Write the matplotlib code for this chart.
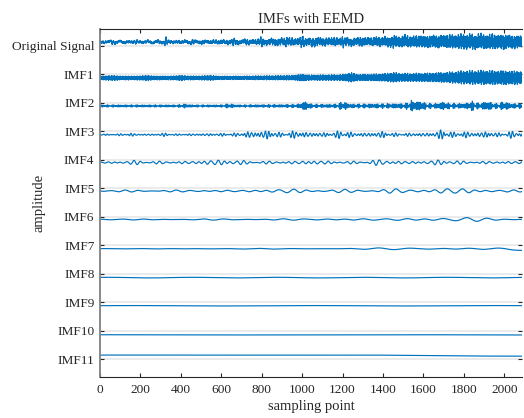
import numpy as np
import matplotlib
matplotlib.use("Agg")
import matplotlib.pyplot as plt

# ---------------- data ----------------
labels = ["Original Signal", "IMF1", "IMF2", "IMF3", "IMF4", "IMF5", "IMF6",
          "IMF7", "IMF8", "IMF9", "IMF10", "IMF11"]
n_samples = 2089
xticks = [0, 200, 400, 600, 800, 1000, 1200, 1400, 1600, 1800, 2000]
knots = [0, 100, 200, 300, 400, 500, 600, 700, 800, 900, 1000, 1100, 1200,
         1300, 1400, 1500, 1600, 1700, 1800, 1900, 2000, 2088]

# mean level of each trace relative to its tick
means = [4.0, -3.3, -3.0, -3.3, -2.7, -2.7, -2.7, -3.5, -3.9, -3.6, -4.2, 0.0]

# Original signal: fast / medium components and spikes
orig_fast_env = [1, 1, 1, 1.2, 1.2, 1.4, 1.6, 1.8, 2.2, 2.8, 3.2, 3.3, 3.3,
                 3.6, 4.2, 5.4, 5.6, 6.2, 7.2, 7.2, 7, 5.8]
orig_mid_env = [1, 1, 1, 1, 1, 1, 1.2, 1.5, 1.8, 2, 2, 2, 2, 1.8, 1.5, 1.2,
                1.0, 1.0, 0.8, 0.8, 0.8, 0.8]
orig_spikes = [(60, 1.5), (180, 1.5), (325, 4.5), (460, 1.5), (660, 2.5),
               (800, 3), (920, 3), (1000, 3), (1050, 2), (1200, 3), (1455, 2.5)]

imf1_env = [2, 2, 2, 2, 2, 2, 1.8, 1.8, 2, 2.2, 2.5, 2.8, 3, 3.3, 3.8, 4, 4.3,
            5, 6.5, 7, 7, 6.5]
imf1_bursts = [(60, 0.6), (230, 0.6), (400, 0.6), (540, 0.6), (1000, 1.0),
               (1240, 1.5), (1450, 1.0)]
imf2_env = [1, 1, 1, 1, 1, 1, 1, 1, 1.2, 1.3, 1.5, 1.5, 1.6, 1.8, 2, 2.2, 2.2,
            2.2, 2.2, 2.2, 2.2, 2]
imf2_bursts = [(420, 0.8), (640, 1), (1015, 2.5), (1203, 2), (1545, 2.5),
               (1585, 2), (1700, 1.5), (1840, 2), (1915, 2), (2000, 1.5)]
imf3_env = [0.6, 0.6, 0.6, 0.6, 0.7, 0.9, 1.2, 1.5, 1.8, 1.8, 1.8, 1.8, 1.6,
            1.5, 1.5, 1.4, 1.4, 1.5, 1.5, 1.5, 1.5, 1.5]
imf3_bursts = [(140, 0.8), (320, 0.8), (740, 1), (830, 2), (970, 1.5),
               (1200, 2.2), (1400, 1.2), (1700, 3), (1800, 1.2), (1915, 1.2),
               (2045, 1.5)]
imf4_env = [0.6, 0.7, 1.1, 1.1, 1, 1.2, 1.3, 1.2, 1.2, 1, 1.1, 1.2, 1, 1.2,
            1.2, 1.1, 1.1, 1.2, 1.1, 1.0, 1.0, 1.0]
imf4_bursts = [(170, 0.8), (550, 0.8), (650, 1), (1050, 0.6), (1385, 1.2),
               (1700, 1.3)]
imf5_env = [0.8, 0.8, 0.8, 0.8, 0.8, 0.8, 0.7, 0.7, 0.8, 1.1, 0.9, 1, 0.9, 0.9,
            1.1, 1, 1, 1, 1, 0.9, 0.9, 0.9]
imf5_bursts = [(915, 0.8), (1170, 0.5), (1435, 0.8), (1750, 1.5)]
imf6_env = [0.4, 0.4, 0.4, 0.4, 0.4, 0.5, 0.5, 0.5, 0.6, 0.6, 0.6, 0.7, 0.7,
            0.7, 0.8, 0.9, 1, 1, 1.1, 1, 0.9, 0.9]
imf6_bursts = [(1750, 0.5), (1850, 0.3)]
imf7_env = [0.2, 0.2, 0.2, 0.2, 0.2, 0.3, 0.3, 0.3, 0.3, 0.3, 0.3, 0.3, 0.4,
            0.5, 0.7, 0.9, 0.9, 0.8, 0.7, 0.6, 0.6, 0.5]
imf7_trend = [0, 0, 0, 0, 0, 0, 0, 0, 0, 0, 0, 0, 0, 0, 0, 0, 0, 0, 0, 0, 0,
              -1.5]
imf8_amp = 0.3
imf9_amp = 0.2
imf10_amp = 0.15
imf11_trend = [3.9, 3.9, 3.9, 3.9, 3.9, 3.9, 3.9, 3.9, 3.9, 3.9, 3.9, 3.9,
               3.9, 3.85, 3.8, 3.6, 3.4, 3.2, 3.0, 2.9, 2.8, 2.8]

# dominant period (samples) of each component
periods = {"orig_fast": 3.3, "orig_mid": 13, "imf1": 3.3, "imf2": 7,
           "imf3": 17, "imf4": 32, "imf5": 64, "imf6": 100, "imf7": 150,
           "imf8": 420, "imf9": 900, "imf10": 1600}

# ---------------- build traces ----------------
s = np.arange(n_samples)


def env(vals):
    return np.interp(s, knots, vals)


def burst(lst, width):
    out = np.zeros(n_samples)
    for c, a in lst:
        out += a * np.exp(-((s - c) / width) ** 2)
    return out


def pure(p, ph=0.0):
    return np.sin(2 * np.pi * s / p + ph)


def carrier(p, ph=0.0, w=0.55):
    # narrow-band oscillation around the dominant period
    return (pure(p, ph) + w * pure(1.31 * p, 2 * ph + 1.0)
            + 0.6 * w * pure(0.77 * p, ph + 2.0)) / (1 + 0.9 * w)


orig = (env(orig_fast_env) * carrier(periods["orig_fast"], 0.0, 0.25)
        + env(orig_mid_env) * 0.7 * carrier(periods["orig_mid"], 0.7)
        + burst(orig_spikes, 7) * pure(periods["orig_mid"], 0.7)
        + 0.8 * carrier(47, 1.3))
imf1 = (env(imf1_env) + burst(imf1_bursts, 25)) * carrier(periods["imf1"], 0.0, 0.25)
imf2 = (env(imf2_env) + burst(imf2_bursts, 22)) * carrier(periods["imf2"], 0.4)
imf3 = (env(imf3_env) + burst(imf3_bursts, 35)) * carrier(periods["imf3"], 1.1)
imf4 = (env(imf4_env) + burst(imf4_bursts, 60)) * carrier(periods["imf4"], 0.2)
imf5 = (env(imf5_env) + burst(imf5_bursts, 100)) * carrier(periods["imf5"], 2.0)
imf6 = (env(imf6_env) + burst(imf6_bursts, 120)) * carrier(periods["imf6"], 0.9)
imf7 = env(imf7_env) * carrier(periods["imf7"], 0.3) + env(imf7_trend)
imf8 = imf8_amp * pure(periods["imf8"], 1.0)
imf9 = imf9_amp * pure(periods["imf9"], 0.5)
imf10 = imf10_amp * pure(periods["imf10"], 2.5)
imf11 = env(imf11_trend)

traces = [orig, imf1, imf2, imf3, imf4, imf5, imf6, imf7, imf8, imf9, imf10,
          imf11]

# ---------------- plot ----------------
plt.rcParams["font.family"] = ["Liberation Serif", "DejaVu Serif"]
fig = plt.figure(figsize=(5.24, 4.18), dpi=100)
ax = fig.add_axes([0.1908, 0.0988, 0.9962 - 0.1908, 0.9313 - 0.0988])

step = 28
n = len(labels)
pos = [(n - 1 - i) * step for i in range(n)]
color = "#0072BD"

for yp in pos:
    ax.axhline(yp, color="#e6e6e6", lw=1.1, zorder=0)

for i, tr in enumerate(traces):
    ax.plot(s, tr + means[i] + pos[i], color=color, lw=0.85, zorder=2)

ax.set_xlim(0, 2088)
ax.set_ylim(-17.4, pos[0] + 17.0)
ax.set_xticks(xticks)
ax.set_yticks(pos)
ax.set_yticklabels(labels)

ax.tick_params(axis="both", direction="in", length=3, width=0.8,
               color="#262626", labelsize=9.6, labelcolor="#262626")
ax.tick_params(axis="y", pad=4, right=True)
ax.tick_params(axis="x", pad=5, top=True)

ax.spines["right"].set_visible(False)
ax.spines["left"].set_color("#808080")
ax.spines["left"].set_linewidth(1.3)
for sp in ("top", "bottom"):
    ax.spines[sp].set_color("#262626")
    ax.spines[sp].set_linewidth(0.8)

ax.set_title("IMFs with EEMD", fontsize=10.5, color="#262626", pad=4)
ax.set_xlabel("sampling point", fontsize=10.5, color="#262626", labelpad=3)
ax.set_ylabel("amplitude", fontsize=10.5, color="#262626")
ax.yaxis.set_label_coords(-0.128, 0.5)

fig.savefig("out.png", dpi=100)
